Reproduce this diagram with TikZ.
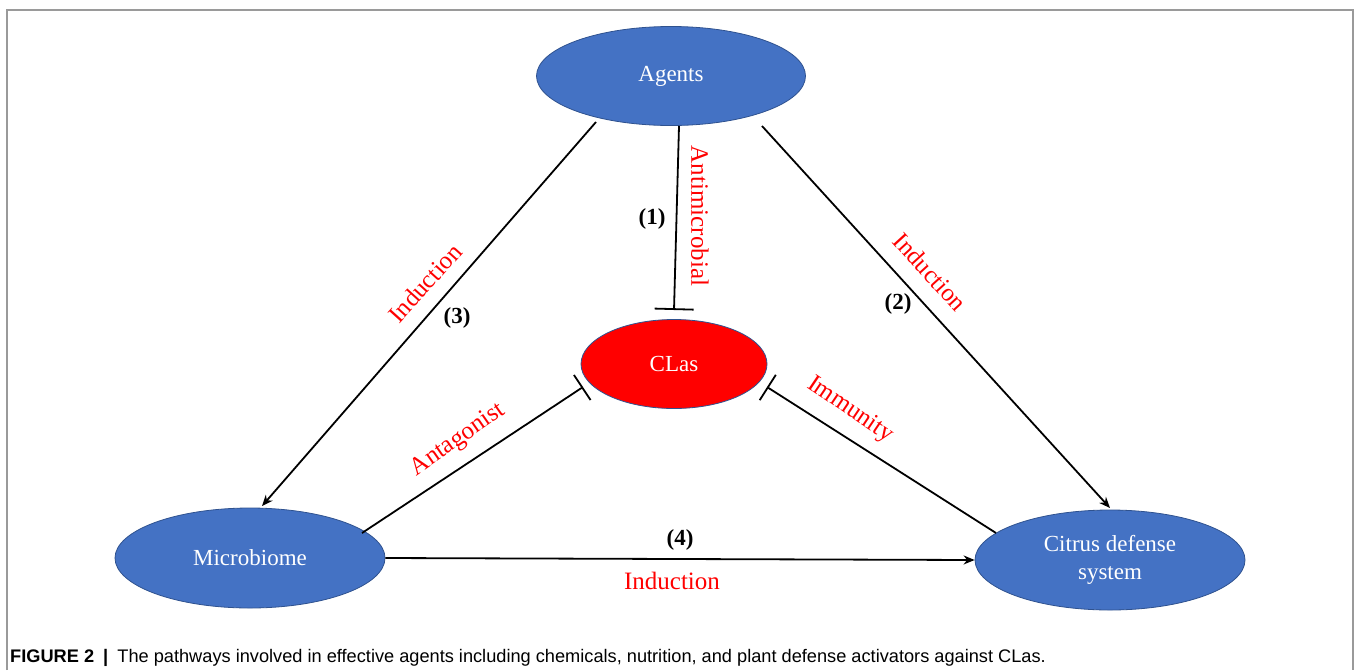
\documentclass[tikz,border=0pt]{standalone}
\usepackage{fontspec}
\setmainfont{Liberation Serif}
\newfontfamily\capfont{Liberation Sans}
\usetikzlibrary{shapes.geometric,arrows.meta,calc}
\definecolor{nodeblue}{HTML}{4472C4}
\definecolor{edgeblue}{HTML}{2F528F}
\definecolor{labred}{HTML}{FF0000}
\definecolor{framegray}{HTML}{9A9A9A}
\begin{document}
\begin{tikzpicture}[x=1pt,y=-1pt,
  ent/.style={ellipse, draw=edgeblue, line width=0.8pt, fill=nodeblue, text=white,
    font=\fontsize{23}{28}\selectfont, inner sep=0pt, align=center,
    minimum width=270pt, minimum height=100pt},
  lab/.style={text=labred, font=\fontsize{25}{30}\selectfont, inner sep=0pt},
  num/.style={font=\bfseries\fontsize{23}{27}\selectfont, inner sep=0pt},
  conn/.style={line width=1.8pt, black},
  ind/.style={conn, -{Stealth[length=11pt,width=9pt]}},
  inh/.style={conn, -{Bar[width=30pt,line width=1.8pt]}}]
\useasboundingbox (0,0) rectangle (1356,670);
\draw[framegray, line width=2pt] (7,670) -- (7,9.5) -- (1353,9.5) -- (1353,670);
% nodes
\node[ent, minimum width=269pt, minimum height=99pt] (Agents) at (671,76) {Agents};
\node[ent, fill=labred, minimum width=186pt, minimum height=89pt] (CLas) at (674,364) {CLas};
\node[ent] (Microbiome) at (250,558) {Microbiome};
\node[ent] (Citrus) at (1110,560) {Citrus defense\\system};
% connectors
\draw[conn, -{Bar[width=39pt,line width=1.8pt]}] ($(Agents.center)+(8,50)$) -- ($(CLas.center)+(0,-54)$);
\draw[ind] ($(Agents.center)+(-75,46)$) -- ($(Microbiome.center)+(12,-52)$);
\draw[ind] ($(Agents.center)+(91,50)$) -- ($(Citrus.center)+(0,-52)$);
\draw[inh] ($(Microbiome.center)+(112,-25)$) -- ($(CLas.center)+(-91,23)$);
\draw[inh] ($(Citrus.center)+(-114,-27)$) -- ($(CLas.center)+(93,23)$);
\draw[ind] (Microbiome.east) -- (Citrus.west);
% labels
\node[lab, rotate=-90] (l1) at (700,216) {Antimicrobial};
\node[num] (n1) at (652,219) {(1)};
\node[lab, rotate=48] (l3) at (425,283) {Induction};
\node[num] (n3) at (457,318) {(3)};
\node[lab, rotate=-47.7] (l2) at (930,272) {Induction};
\node[num] (n2) at (898,304) {(2)};
\node[lab, rotate=35] (la) at (458,440) {Antagonist};
\node[lab, rotate=-34] (li) at (850,410) {Immunity};
\node[num] (n4) at (680,540) {(4)};
\node[lab] (l4) at (672,581) {Induction};
% caption
\node[anchor=base west, inner sep=0pt, font=\capfont\fontsize{18.2}{21}\selectfont] (cap) at (10,662)
  {\textbf{FIGURE 2}\enspace{\bfseries|}\enspace The pathways involved in effective agents including chemicals, nutrition, and plant defense activators against CLas.};
\end{tikzpicture}
\end{document}
